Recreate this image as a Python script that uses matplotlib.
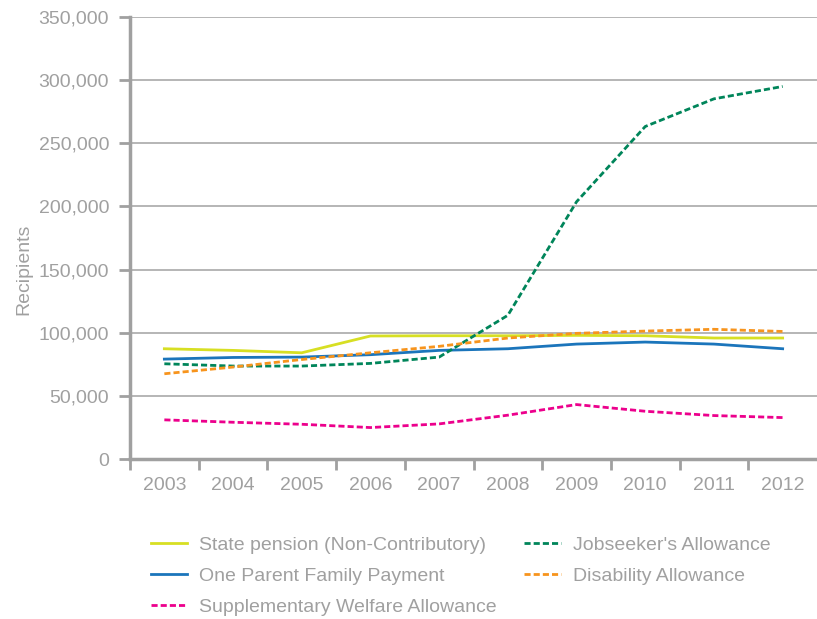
import numpy as np
import matplotlib
matplotlib.use("Agg")
from matplotlib import pyplot as plt
from matplotlib.ticker import FuncFormatter

years = ["2003", "2004", "2005", "2006", "2007", "2008", "2009", "2010", "2011", "2012"]

state_pension = [87300, 86000, 84100, 97400, 97600, 97600, 97900, 97600, 95800, 95800]
one_parent = [79100, 80400, 80700, 82600, 86000, 87300, 91000, 92600, 91000, 87300]
jobseekers = [75400, 73600, 73600, 75700, 80700, 113800, 203700, 263300, 285200, 295000]
disability = [67500, 72800, 78800, 84100, 89200, 95800, 99500, 101300, 102700, 101000]
supplementary = [31000, 29100, 27500, 24900, 27800, 34700, 43100, 37800, 34400, 32800]

GREY = "#a0a0a0"
plt.rcParams['font.family'] = ['Liberation Sans', 'DejaVu Sans']

fig = plt.figure(figsize=(8.17, 6.19), dpi=100)
ax = fig.add_axes([130 / 817, 1 - 459 / 619, 687 / 817, 442 / 619])

x = np.arange(len(years))
dash = (2.2, 1.1)
ax.plot(x, state_pension, color="#d7df23", lw=2, label="State pension (Non-Contributory)")
ax.plot(x, one_parent, color="#1b75bb", lw=2, label="One Parent Family Payment")
ax.plot(x, supplementary, color="#ec008c", lw=2, dashes=dash, label="Supplementary Welfare Allowance")
ax.plot(x, jobseekers, color="#00855a", lw=2, dashes=dash, label="Jobseeker's Allowance")
ax.plot(x, disability, color="#f7941d", lw=2, dashes=dash, label="Disability Allowance")

ax.set_xlim(-0.5, 9.5)
ax.set_ylim(0, 350000)
ax.set_yticks(np.arange(0, 350001, 50000))
ax.yaxis.set_major_formatter(FuncFormatter(lambda v, p: f"{int(v):,}"))
ax.set_xticks(np.arange(-0.5, 9.0, 1.0))
ax.set_xticklabels([])
ax.set_xticks(x, minor=True)
ax.set_xticklabels(years, minor=True)
ax.tick_params(axis='x', which='minor', length=0, pad=13, labelsize=14, labelcolor=GREY)
ax.tick_params(axis='x', which='major', length=8, width=2, color=GREY)
ax.tick_params(axis='y', length=8, width=2, color=GREY, labelsize=14, labelcolor=GREY, pad=7)

ax.grid(axis='y', color="#b0b0b0", lw=1.3)
ax.set_axisbelow(True)
for s in ['top', 'right']:
    ax.spines[s].set_visible(False)
for s in ['left', 'bottom']:
    ax.spines[s].set_color(GREY)
    ax.spines[s].set_linewidth(2.5)

ax.set_ylabel("Recipients", fontsize=14, color=GREY)
ax.yaxis.set_label_coords(-0.142, 0.43)

leg = fig.legend(loc='upper left', bbox_to_anchor=(133 / 817, 1 - 519 / 619), ncol=2,
                 frameon=False, fontsize=14, handlelength=1.9, handletextpad=0.6,
                 columnspacing=1.4, labelspacing=0.68)
for t in leg.get_texts():
    t.set_color(GREY)

fig.savefig("out.png", dpi=100)
